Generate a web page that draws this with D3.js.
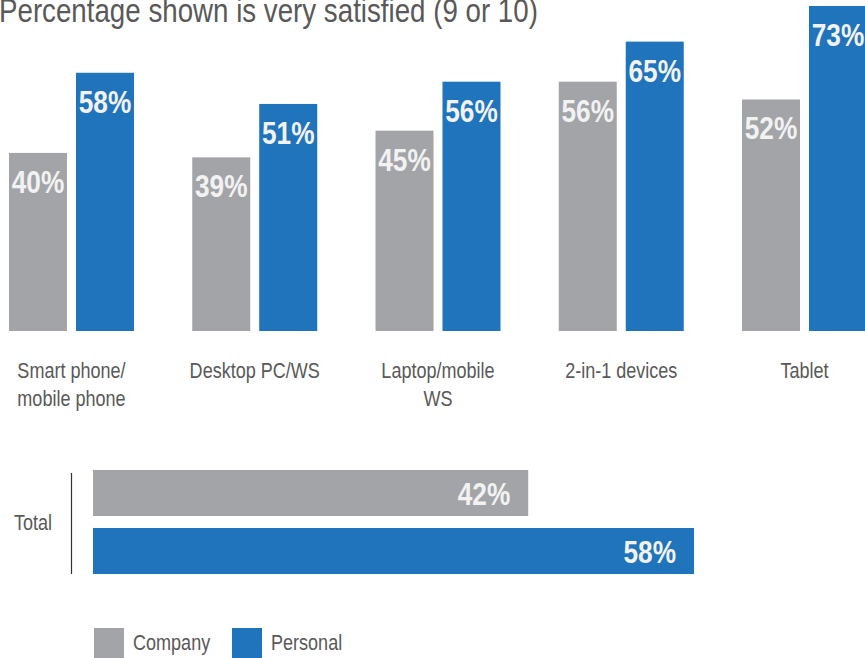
<!DOCTYPE html>
<html>
<head>
<meta charset="utf-8">
<script src="https://cdn.jsdelivr.net/npm/d3@7"></script>
<style>
  body { margin: 0; background: #fff; }
  svg { display: block; }
  text { font-family: "Liberation Sans", Arial, sans-serif; }
</style>
</head>
<body>
<div id="chart"></div>
<script>
var categories = [
  ["Smart phone/", "mobile phone"],
  ["Desktop PC/WS"],
  ["Laptop/mobile", "WS"],
  ["2-in-1 devices"],
  ["Tablet"]
];
var seriesNames = ["Company", "Personal"];
var company = [40, 39, 45, 56, 52];
var personal = [58, 51, 56, 65, 73];
var totalLabel = "Total";
var totals = [42, 58];
var title = "Percentage shown is very satisfied (9 or 10)";

var colors = { Company: "#a3a4a8", Personal: "#1f74bb" };
var textGray = "#595959";
var labelWhite = "#f2f2f2";
var squeeze = 0.82; // narrow face look

var width = 865, height = 658;

var svg = d3.select("#chart")
  .append("svg")
  .attr("width", width)
  .attr("height", height);

function place(x, y) {
  return "translate(" + x + "," + y + ") scale(" + squeeze + ",1)";
}

svg.append("text")
  .attr("transform", place(-1, 22))
  .attr("fill", textGray)
  .style("font-size", "33.8px")
  .text(title);

// column chart
var catKeys = categories.map(function(d) { return d.join(" "); });

var data = catKeys.map(function(k, i) {
  return { key: k, lines: categories[i], Company: company[i], Personal: personal[i] };
});

var x0 = d3.scaleBand()
  .domain(catKeys)
  .range([9, 867])
  .paddingInner(0.318)
  .paddingOuter(0);

var x1 = d3.scaleBand()
  .domain(seriesNames)
  .range([0, x0.bandwidth()])
  .paddingInner(0.134);

var y = d3.scaleLinear()
  .domain([0, d3.max(personal)])
  .range([331, 6]);

var groups = svg.selectAll(".group")
  .data(data)
  .enter()
  .append("g")
  .attr("class", "group")
  .attr("transform", function(d) { return "translate(" + x0(d.key) + ",0)"; });

var bars = groups.selectAll(".bar")
  .data(function(d) {
    return seriesNames.map(function(s) { return { series: s, value: d[s] }; });
  })
  .enter();

bars.append("rect")
  .attr("class", "bar")
  .attr("x", function(d) { return x1(d.series); })
  .attr("y", function(d) { return y(d.value); })
  .attr("width", x1.bandwidth())
  .attr("height", function(d) { return y(0) - y(d.value); })
  .attr("fill", function(d) { return colors[d.series]; });

bars.append("text")
  .attr("transform", function(d) {
    return place(x1(d.series) + x1.bandwidth() / 2, y(d.value) + 40);
  })
  .attr("text-anchor", "middle")
  .attr("fill", labelWhite)
  .style("font-size", "32px")
  .style("font-weight", "bold")
  .text(function(d) { return d.value + "%"; });

groups.selectAll(".cat")
  .data(function(d) { return d.lines; })
  .enter()
  .append("text")
  .attr("class", "cat")
  .attr("transform", function(d, i) { return place(x0.bandwidth() / 2, 378 + i * 28); })
  .attr("text-anchor", "middle")
  .attr("fill", textGray)
  .style("font-size", "22px")
  .text(function(d) { return d; });

// total bar chart
var totalData = seriesNames.map(function(s, i) { return { series: s, value: totals[i] }; });

var xt = d3.scaleLinear()
  .domain([0, d3.max(totals)])
  .range([93, 694]);

var yt = d3.scaleBand()
  .domain(seriesNames)
  .range([470, 574])
  .paddingInner(0.207);

svg.append("line")
  .attr("x1", 71.5).attr("x2", 71.5)
  .attr("y1", 473).attr("y2", 574)
  .attr("stroke", "#333")
  .attr("stroke-width", 1.2);

svg.append("text")
  .attr("transform", place(14, 530))
  .attr("fill", textGray)
  .style("font-size", "22px")
  .text(totalLabel);

svg.selectAll(".tbar")
  .data(totalData)
  .enter()
  .append("rect")
  .attr("class", "tbar")
  .attr("x", xt(0))
  .attr("y", function(d) { return yt(d.series); })
  .attr("width", function(d) { return xt(d.value) - xt(0); })
  .attr("height", yt.bandwidth())
  .attr("fill", function(d) { return colors[d.series]; });

svg.selectAll(".tlabel")
  .data(totalData)
  .enter()
  .append("text")
  .attr("class", "tlabel")
  .attr("transform", function(d) { return place(xt(d.value) - 18, yt(d.series) + 35); })
  .attr("text-anchor", "end")
  .attr("fill", labelWhite)
  .style("font-size", "32px")
  .style("font-weight", "bold")
  .text(function(d) { return d.value + "%"; });

// legend
var legend = svg.selectAll(".legend")
  .data(seriesNames)
  .enter()
  .append("g")
  .attr("class", "legend")
  .attr("transform", function(d, i) { return "translate(" + (94 + i * 138) + ",628)"; });

legend.append("rect")
  .attr("width", 30)
  .attr("height", 30)
  .attr("fill", function(d) { return colors[d]; });

legend.append("text")
  .attr("transform", place(39, 22))
  .attr("fill", textGray)
  .style("font-size", "22px")
  .text(function(d) { return d; });
</script>
</body>
</html>
